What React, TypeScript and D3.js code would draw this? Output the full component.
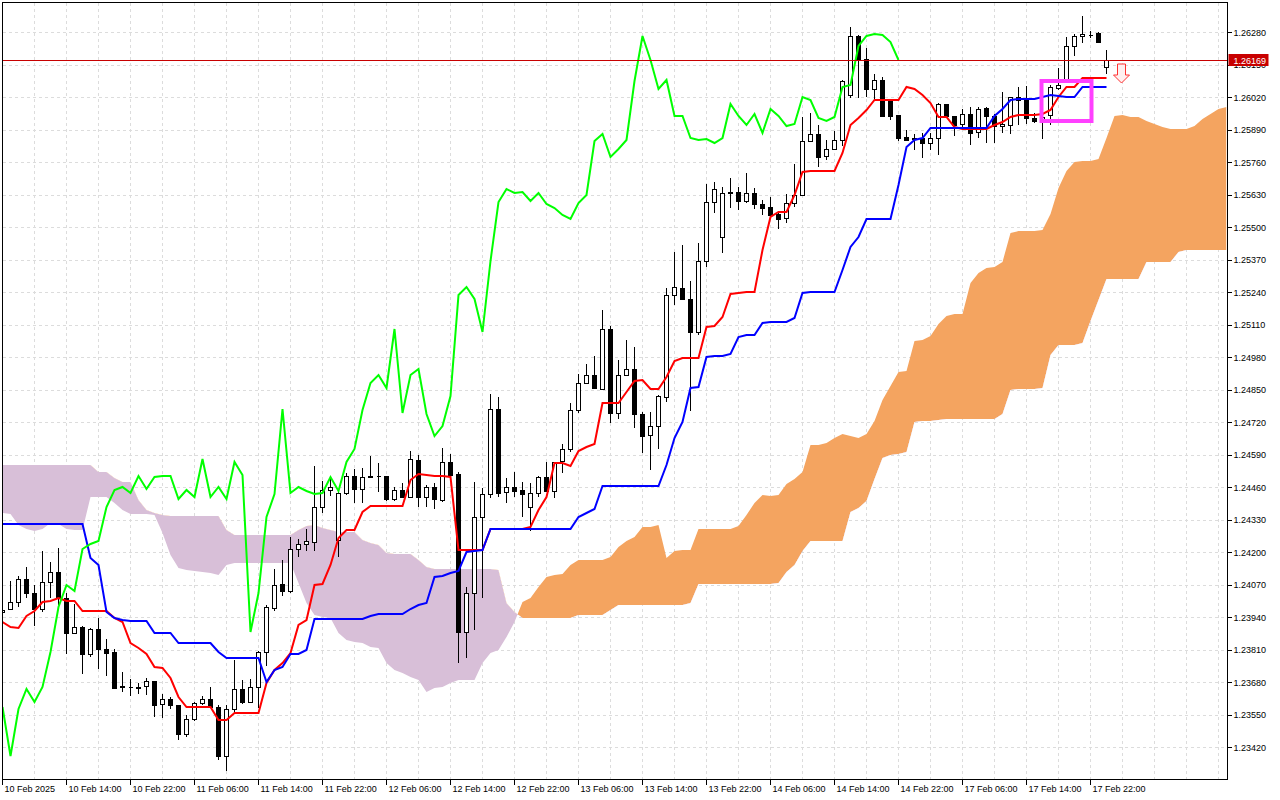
import React, { useEffect, useRef } from 'react';
import * as d3 from 'd3';

// GBPUSD H1, first visible bar = 10 Feb 2025 06:00, one bar per hour (weekend gap skipped)
const opens = [
  1.23961, 1.23973, 1.24001, 1.24093, 1.24037, 1.23973, 1.24081, 1.24121, 1.24017, 1.23877,
  1.23901, 1.23793, 1.23893, 1.23813, 1.23801, 1.23665, 1.23661, 1.23661, 1.23665, 1.23685,
  1.23593, 1.23613, 1.23589, 1.23473, 1.23533, 1.23597, 1.23613, 1.23581, 1.23385, 1.23573,
  1.23653, 1.23601, 1.23661, 1.23801, 1.23977, 1.24073, 1.24045, 1.24213, 1.24233, 1.24241,
  1.24381, 1.24449, 1.24249, 1.24437, 1.24505, 1.24453, 1.24501, 1.24505, 1.24505, 1.24413,
  1.24449, 1.24421, 1.24569, 1.24421, 1.24461, 1.24409, 1.24561, 1.24513, 1.23881, 1.24037,
  1.24341, 1.24433, 1.24773, 1.24441, 1.24461, 1.24449, 1.24381, 1.24437, 1.24501, 1.24445,
  1.24565, 1.24613, 1.24769, 1.24877, 1.24909, 1.24853, 1.25093, 1.24757, 1.24909, 1.24933,
  1.24753, 1.24669, 1.24705, 1.24821, 1.25229, 1.25257, 1.25213, 1.25081, 1.25365, 1.25601,
  1.25461, 1.25637, 1.25641, 1.25605, 1.25637, 1.25593, 1.25581, 1.25553, 1.25537, 1.25597,
  1.25629, 1.25845, 1.25873, 1.25785, 1.25813, 1.25849, 1.26029, 1.26265, 1.26173, 1.26053,
  1.26089, 1.26009, 1.25949, 1.25861, 1.25857, 1.25857, 1.25837, 1.25857, 1.25993, 1.25945,
  1.25913, 1.25953, 1.25881, 1.25977, 1.25945, 1.25905, 1.25909, 1.26021, 1.26013, 1.25937,
  1.25925, 1.25949, 1.26057, 1.26089, 1.26225, 1.26265, 1.26273, 1.26277, 1.26141,
];
const highs = [
  1.23981, 1.24085, 1.24105, 1.24141, 1.24069, 1.24205, 1.24161, 1.24217, 1.24037, 1.23993,
  1.23905, 1.23897, 1.23937, 1.23853, 1.23813, 1.23721, 1.23693, 1.23677, 1.23697, 1.23685,
  1.23633, 1.23621, 1.23589, 1.23549, 1.23601, 1.23625, 1.23661, 1.23589, 1.23589, 1.23769,
  1.23689, 1.23693, 1.23805, 1.23989, 1.24133, 1.24169, 1.24261, 1.24253, 1.24293, 1.24545,
  1.24485, 1.24501, 1.24449, 1.24517, 1.24533, 1.24537, 1.24585, 1.24557, 1.24505, 1.24461,
  1.24477, 1.24605, 1.24589, 1.24469, 1.24477, 1.24617, 1.24593, 1.24521, 1.24061, 1.24481,
  1.24457, 1.24833, 1.24821, 1.24497, 1.24521, 1.24481, 1.24477, 1.24505, 1.24561, 1.24561,
  1.24633, 1.24797, 1.24913, 1.24953, 1.24985, 1.25169, 1.25105, 1.24969, 1.25049, 1.25021,
  1.24761, 1.24761, 1.24829, 1.25257, 1.25401, 1.25429, 1.25285, 1.25437, 1.25673, 1.25681,
  1.25661, 1.25697, 1.25661, 1.25717, 1.25657, 1.25609, 1.25621, 1.25565, 1.25633, 1.25753,
  1.25941, 1.25957, 1.25909, 1.25849, 1.25885, 1.26089, 1.26301, 1.26269, 1.26217, 1.26113,
  1.26101, 1.26009, 1.25949, 1.25889, 1.25873, 1.25877, 1.25877, 1.25997, 1.25993, 1.25945,
  1.25973, 1.25981, 1.25981, 1.25981, 1.25953, 1.26041, 1.26021, 1.26061, 1.26065, 1.25957,
  1.25969, 1.26069, 1.26137, 1.26261, 1.26273, 1.26345, 1.26285, 1.26281, 1.26209,
];
const lows = [
  1.23953, 1.23969, 1.23981, 1.24017, 1.23905, 1.23961, 1.24017, 1.23989, 1.23793, 1.23873,
  1.23713, 1.23781, 1.23733, 1.23705, 1.23657, 1.23641, 1.23625, 1.23633, 1.23629, 1.23541,
  1.23537, 1.23573, 1.23449, 1.23461, 1.23525, 1.23589, 1.23577, 1.23369, 1.23325, 1.23557,
  1.23593, 1.23597, 1.23577, 1.23745, 1.23965, 1.24025, 1.24037, 1.24181, 1.24205, 1.24205,
  1.24357, 1.24425, 1.24181, 1.24429, 1.24397, 1.24397, 1.24501, 1.24441, 1.24405, 1.24405,
  1.24421, 1.24417, 1.24381, 1.24381, 1.24373, 1.24401, 1.24509, 1.23757, 1.23777, 1.23889,
  1.24017, 1.24417, 1.24421, 1.24397, 1.24421, 1.24341, 1.24285, 1.24421, 1.24441, 1.24417,
  1.24517, 1.24601, 1.24757, 1.24873, 1.24857, 1.24849, 1.24717, 1.24733, 1.24905, 1.24697,
  1.24597, 1.24529, 1.24613, 1.24801, 1.25189, 1.25209, 1.24765, 1.25069, 1.25341, 1.25557,
  1.25397, 1.25577, 1.25569, 1.25597, 1.25573, 1.25549, 1.25545, 1.25493, 1.25517, 1.25581,
  1.25625, 1.25841, 1.25741, 1.25769, 1.25809, 1.25825, 1.26017, 1.26017, 1.26021, 1.26009,
  1.25945, 1.25929, 1.25845, 1.25845, 1.25809, 1.25777, 1.25809, 1.25789, 1.25941, 1.25865,
  1.25893, 1.25829, 1.25857, 1.25837, 1.25837, 1.25877, 1.25873, 1.25909, 1.25913, 1.25917,
  1.25853, 1.25909, 1.26049, 1.26081, 1.26185, 1.26237, 1.26257, 1.26241, 1.26113,
];
const closes = [
  1.23969, 1.24001, 1.24093, 1.24037, 1.23973, 1.24081, 1.24121, 1.24017, 1.23877, 1.23901,
  1.23793, 1.23893, 1.23813, 1.23797, 1.23657, 1.23661, 1.23661, 1.23657, 1.23685, 1.23589,
  1.23613, 1.23589, 1.23473, 1.23533, 1.23597, 1.23613, 1.23581, 1.23385, 1.23573, 1.23653,
  1.23601, 1.23661, 1.23801, 1.23981, 1.24069, 1.24045, 1.24213, 1.24233, 1.24245, 1.24381,
  1.24449, 1.24461, 1.24437, 1.24505, 1.24453, 1.24501, 1.24505, 1.24505, 1.24413, 1.24449,
  1.24421, 1.24573, 1.24421, 1.24461, 1.24413, 1.24561, 1.24509, 1.23881, 1.24037, 1.24341,
  1.24433, 1.24773, 1.24437, 1.24461, 1.24445, 1.24433, 1.24437, 1.24501, 1.24445, 1.24561,
  1.24613, 1.24769, 1.24877, 1.24909, 1.24857, 1.25093, 1.24757, 1.24909, 1.24933, 1.24753,
  1.24665, 1.24705, 1.24825, 1.25229, 1.25261, 1.25213, 1.25081, 1.25365, 1.25601, 1.25653,
  1.25637, 1.25641, 1.25605, 1.25637, 1.25593, 1.25577, 1.25549, 1.25533, 1.25597, 1.25629,
  1.25845, 1.25873, 1.25781, 1.25813, 1.25849, 1.26085, 1.26265, 1.26169, 1.26053, 1.26089,
  1.25945, 1.25945, 1.25857, 1.25849, 1.25853, 1.25837, 1.25857, 1.25993, 1.25945, 1.25909,
  1.25953, 1.25877, 1.25973, 1.25945, 1.25905, 1.25913, 1.26021, 1.26009, 1.25937, 1.25925,
  1.25941, 1.26061, 1.26069, 1.26225, 1.26265, 1.26273, 1.26269, 1.26241, 1.26169,
];

// Ichimoku lines, one value per bar
const tenkan = [
  1.23921, 1.23901, 1.23897, 1.23945, 1.23965, 1.24001, 1.24005, 1.24017, 1.24005, 1.24005,
  1.23965, 1.23965, 1.23965, 1.23965, 1.23937, 1.23921, 1.23837, 1.23817, 1.23793, 1.23741,
  1.23737, 1.23697, 1.23621, 1.23581, 1.23581, 1.23581, 1.23581, 1.23529, 1.23529, 1.23557,
  1.23557, 1.23557, 1.23557, 1.23677, 1.23729, 1.23757, 1.23797, 1.23909, 1.23929, 1.24069,
  1.24073, 1.24149, 1.24257, 1.24289, 1.24289, 1.24361, 1.24385, 1.24385, 1.24385, 1.24385,
  1.24385, 1.24489, 1.24513, 1.24509, 1.24505, 1.24505, 1.24501, 1.24209, 1.24209, 1.24209,
  1.24209, 1.24293, 1.24293, 1.24293, 1.24293, 1.24293, 1.24301, 1.24369, 1.24421, 1.24557,
  1.24557, 1.24545, 1.24605, 1.24621, 1.24633, 1.24797, 1.24797, 1.24797, 1.24841, 1.24885,
  1.24889, 1.24853, 1.24853, 1.24901, 1.24965, 1.24977, 1.24977, 1.24977, 1.25101, 1.25105,
  1.25141, 1.25233, 1.25237, 1.25241, 1.25241, 1.25409, 1.25541, 1.25561, 1.25561, 1.25629,
  1.25721, 1.25725, 1.25725, 1.25725, 1.25725, 1.25797, 1.25909, 1.25937, 1.25969, 1.26009,
  1.26009, 1.26009, 1.26009, 1.26061, 1.26053, 1.26029, 1.25997, 1.25941, 1.25941, 1.25901,
  1.25893, 1.25893, 1.25893, 1.25893, 1.25909, 1.25921, 1.25941, 1.25949, 1.25949, 1.25949,
  1.25953, 1.25969, 1.26021, 1.26061, 1.26061, 1.26097, 1.26097, 1.26097, 1.26097,
];
const kijun = [
  1.24313, 1.24313, 1.24313, 1.24313, 1.24313, 1.24313, 1.24313, 1.24313, 1.24313, 1.24313,
  1.24313, 1.24177, 1.24149, 1.23961, 1.23937, 1.23929, 1.23925, 1.23925, 1.23925, 1.23877,
  1.23877, 1.23877, 1.23837, 1.23837, 1.23837, 1.23837, 1.23837, 1.23801, 1.23777, 1.23777,
  1.23777, 1.23777, 1.23777, 1.23681, 1.23729, 1.23741, 1.23793, 1.23793, 1.23809, 1.23933,
  1.23933, 1.23933, 1.23933, 1.23933, 1.23933, 1.23933, 1.23945, 1.23953, 1.23953, 1.23953,
  1.23953, 1.23973, 1.23989, 1.23997, 1.24101, 1.24105, 1.24117, 1.24125, 1.24201, 1.24205,
  1.24209, 1.24293, 1.24293, 1.24293, 1.24293, 1.24293, 1.24293, 1.24293, 1.24293, 1.24293,
  1.24293, 1.24293, 1.24341, 1.24357, 1.24373, 1.24465, 1.24465, 1.24465, 1.24465, 1.24465,
  1.24465, 1.24465, 1.24465, 1.24549, 1.24657, 1.24721, 1.24857, 1.24861, 1.24981, 1.24985,
  1.24985, 1.24993, 1.25061, 1.25069, 1.25069, 1.25117, 1.25121, 1.25121, 1.25121, 1.25137,
  1.25237, 1.25241, 1.25241, 1.25241, 1.25241, 1.25329, 1.25421, 1.25461, 1.25533, 1.25533,
  1.25533, 1.25533, 1.25669, 1.25821, 1.25849, 1.25857, 1.25897, 1.25897, 1.25897, 1.25897,
  1.25897, 1.25897, 1.25897, 1.25897, 1.25945, 1.25973, 1.26009, 1.26013, 1.26013, 1.26013,
  1.26021, 1.26029, 1.26025, 1.26021, 1.26021, 1.26061, 1.26061, 1.26061, 1.26061,
];
// Senkou spans as plotted (already shifted 26 bars forward), bars 0..153
const senkouA = [
  1.24357, 1.24353, 1.24309, 1.24293, 1.24285, 1.24293, 1.24317, 1.24313, 1.24293, 1.24289,
  1.24289, 1.24421, 1.24421, 1.24421, 1.24397, 1.24369, 1.24353, 1.24353, 1.24353, 1.24349,
  1.24277, 1.24189, 1.24137, 1.24129, 1.24125, 1.24121, 1.24117, 1.24109, 1.24149, 1.24157,
  1.24157, 1.24157, 1.24157, 1.24157, 1.24157, 1.24157, 1.24157, 1.24077, 1.23997, 1.23949,
  1.23941, 1.23937, 1.23877, 1.23849, 1.23841, 1.23837, 1.23821, 1.23817, 1.23757, 1.23729,
  1.23717, 1.23701, 1.23689, 1.23641, 1.23657, 1.23661, 1.23677, 1.23689, 1.23689, 1.23689,
  1.23757, 1.23797, 1.23809, 1.23861, 1.23921, 1.24001, 1.24017, 1.24061, 1.24101, 1.24109,
  1.24113, 1.24149, 1.24169, 1.24169, 1.24169, 1.24169, 1.24181, 1.24221, 1.24245, 1.24261,
  1.24301, 1.24301, 1.24309, 1.24177, 1.24205, 1.24209, 1.24209, 1.24293, 1.24293, 1.24293,
  1.24293, 1.24293, 1.24305, 1.24349, 1.24397, 1.24429, 1.24425, 1.24429, 1.24473, 1.24493,
  1.24521, 1.24629, 1.24629, 1.24637, 1.24657, 1.24673, 1.24665, 1.24657, 1.24673, 1.24725,
  1.24809, 1.24865, 1.24921, 1.24925, 1.25045, 1.25049, 1.25065, 1.25113, 1.25145, 1.25153,
  1.25153, 1.25277, 1.25317, 1.25337, 1.25341, 1.25361, 1.25477, 1.25485, 1.25485, 1.25485,
  1.25489, 1.25553, 1.25657, 1.25725, 1.25761, 1.25765, 1.25765, 1.25773, 1.25857, 1.25945,
  1.25949, 1.25941, 1.25941, 1.25925, 1.25913, 1.25901, 1.25893, 1.25893, 1.25893, 1.25905,
  1.25933, 1.25953, 1.25973, 1.25981,
];
const senkouB = [
  1.24549, 1.24549, 1.24549, 1.24549, 1.24549, 1.24549, 1.24549, 1.24549, 1.24549, 1.24549,
  1.24549, 1.24549, 1.24521, 1.24521, 1.24497, 1.24481, 1.24481, 1.24409, 1.24369, 1.24357,
  1.24349, 1.24345, 1.24345, 1.24345, 1.24345, 1.24345, 1.24345, 1.24345, 1.24289, 1.24269,
  1.24269, 1.24269, 1.24269, 1.24269, 1.24269, 1.24269, 1.24269, 1.24289, 1.24305, 1.24309,
  1.24297, 1.24289, 1.24281, 1.24281, 1.24281, 1.24249, 1.24237, 1.24229, 1.24197, 1.24193,
  1.24193, 1.24193, 1.24169, 1.24141, 1.24133, 1.24133, 1.24133, 1.24133, 1.24133, 1.24133,
  1.24133, 1.24133, 1.24129, 1.23997, 1.23961, 1.23937, 1.23937, 1.23937, 1.23937, 1.23937,
  1.23937, 1.23937, 1.23949, 1.23949, 1.23949, 1.23949, 1.23969, 1.23989, 1.23989, 1.23989,
  1.23989, 1.23989, 1.23989, 1.23989, 1.23989, 1.23989, 1.23997, 1.24073, 1.24073, 1.24073,
  1.24073, 1.24073, 1.24073, 1.24073, 1.24073, 1.24073, 1.24073, 1.24077, 1.24121, 1.24149,
  1.24205, 1.24245, 1.24245, 1.24245, 1.24245, 1.24245, 1.24361, 1.24377, 1.24405, 1.24493,
  1.24577, 1.24589, 1.24593, 1.24601, 1.24721, 1.24725, 1.24725, 1.24729, 1.24733, 1.24733,
  1.24733, 1.24733, 1.24733, 1.24733, 1.24733, 1.24753, 1.24849, 1.24853, 1.24853, 1.24853,
  1.24857, 1.24989, 1.25029, 1.25029, 1.25029, 1.25037, 1.25125, 1.25209, 1.25293, 1.25293,
  1.25293, 1.25293, 1.25293, 1.25361, 1.25361, 1.25361, 1.25361, 1.25401, 1.25409, 1.25409,
  1.25409, 1.25409, 1.25409, 1.25409,
];
const CHIKOU_SHIFT = 26;

const priceTicks = [
  '1.26280', '1.26150', '1.26020', '1.25890', '1.25760', '1.25630', '1.25500', '1.25370',
  '1.25240', '1.25110', '1.24980', '1.24850', '1.24720', '1.24590', '1.24460', '1.24330',
  '1.24200', '1.24070', '1.23940', '1.23810', '1.23680', '1.23550', '1.23420',
];
// one label every 8 bars, starting at bar 0
const timeLabels = [
  '10 Feb 2025', '10 Feb 14:00', '10 Feb 22:00', '11 Feb 06:00', '11 Feb 14:00', '11 Feb 22:00',
  '12 Feb 06:00', '12 Feb 14:00', '12 Feb 22:00', '13 Feb 06:00', '13 Feb 14:00', '13 Feb 22:00',
  '14 Feb 06:00', '14 Feb 14:00', '14 Feb 22:00', '17 Feb 06:00', '17 Feb 14:00', '17 Feb 22:00',
];
const LABEL_EVERY = 8;

const currentPrice = 1.26169;
const signalBox = { fromBar: 130, toBar: 136, top: 1.26085, bottom: 1.25925 };
const arrowMark = { bar: 140, price: 1.26153 };

const WIDTH = 1280;
const HEIGHT = 800;
const FRAME = { left: 2.5, top: 2.5, right: 1227.5, bottom: 779.5 };
const BAR_STEP = 8;
const FONT = "'Liberation Sans', Arial, sans-serif";

const App: React.FC = () => {
  const svgRef = useRef<SVGSVGElement>(null);

  useEffect(() => {
    if (!svgRef.current) return;
    const svg = d3.select(svgRef.current);
    svg.selectAll('*').remove();

    const lastBar = senkouA.length - 1;
    const x = d3.scaleLinear()
      .domain([0, lastBar])
      .range([FRAME.left, FRAME.left + BAR_STEP * lastBar]);
    const y = d3.scaleLinear()
      .domain([+priceTicks[priceTicks.length - 1], +priceTicks[0]])
      .range([747.25, 32.25]);

    const defs = svg.append('defs');
    defs.append('clipPath').attr('id', 'plot-area')
      .append('rect')
      .attr('x', FRAME.left + 0.5)
      .attr('y', FRAME.top + 0.5)
      .attr('width', FRAME.right - FRAME.left - 1)
      .attr('height', FRAME.bottom - FRAME.top - 1);

    // split the cloud on span B: the band above B is bullish (A on top), below B bearish
    const cloudBars = d3.range(senkouA.length);
    const spanBPath = d3.line<number>().x(i => x(i)).y(i => y(senkouB[i]))(cloudBars) as string;
    defs.append('clipPath').attr('id', 'above-b')
      .append('path')
      .attr('d', `${spanBPath}L${x(lastBar)},0L${x(0)},0Z`);
    defs.append('clipPath').attr('id', 'below-b')
      .append('path')
      .attr('d', `${spanBPath}L${x(lastBar)},${HEIGHT}L${x(0)},${HEIGHT}Z`);

    // grid
    const grid = svg.append('g')
      .attr('stroke', '#dcdcdc')
      .attr('stroke-dasharray', '3,3')
      .attr('shape-rendering', 'crispEdges');
    grid.selectAll('line.h')
      .data(priceTicks)
      .join('line')
      .attr('class', 'h')
      .attr('x1', FRAME.left)
      .attr('x2', FRAME.right)
      .attr('y1', d => Math.round(y(+d)) + 0.5)
      .attr('y2', d => Math.round(y(+d)) + 0.5);
    grid.selectAll('line.v')
      .data(d3.range(4, lastBar, 4))
      .join('line')
      .attr('class', 'v')
      .attr('x1', d => x(d))
      .attr('x2', d => x(d))
      .attr('y1', FRAME.top)
      .attr('y2', FRAME.bottom);

    const plot = svg.append('g').attr('clip-path', 'url(#plot-area)');

    // kumo
    const band = d3.area<number>()
      .x(i => x(i))
      .y0(i => y(senkouB[i]))
      .y1(i => y(senkouA[i]));
    plot.append('g').attr('clip-path', 'url(#above-b)')
      .append('path')
      .attr('d', band(cloudBars))
      .attr('fill', '#f4a460');
    plot.append('g').attr('clip-path', 'url(#below-b)')
      .append('path')
      .attr('d', band(cloudBars))
      .attr('fill', '#d8bfd8');

    // candles
    const bars = d3.range(opens.length);
    const bodyH = (i: number) => Math.abs(y(opens[i]) - y(closes[i]));
    const candles = plot.append('g').attr('shape-rendering', 'crispEdges');
    candles.selectAll('line.wick')
      .data(bars)
      .join('line')
      .attr('class', 'wick')
      .attr('x1', i => x(i))
      .attr('x2', i => x(i))
      .attr('y1', i => y(highs[i]))
      .attr('y2', i => y(lows[i]))
      .attr('stroke', '#000');
    candles.selectAll('rect.body')
      .data(bars.filter(i => bodyH(i) >= 1))
      .join('rect')
      .attr('class', 'body')
      .attr('x', i => x(i) - 2)
      .attr('width', 4)
      .attr('y', i => y(Math.max(opens[i], closes[i])))
      .attr('height', bodyH)
      .attr('fill', i => (closes[i] >= opens[i] ? '#ffffff' : '#000000'))
      .attr('stroke', '#000');
    candles.selectAll('line.doji')
      .data(bars.filter(i => bodyH(i) < 1))
      .join('line')
      .attr('class', 'doji')
      .attr('x1', i => x(i) - 2)
      .attr('x2', i => x(i) + 2)
      .attr('y1', i => y(closes[i]))
      .attr('y2', i => y(closes[i]))
      .attr('stroke', '#000');

    // indicator lines
    const lineOf = d3.line<number>().x((_, i) => x(i)).y(v => y(v));
    plot.append('path')
      .attr('d', lineOf(tenkan))
      .attr('fill', 'none')
      .attr('stroke', '#ff0000')
      .attr('stroke-width', 2);
    plot.append('path')
      .attr('d', lineOf(kijun))
      .attr('fill', 'none')
      .attr('stroke', '#0000ff')
      .attr('stroke-width', 2);
    plot.append('path')
      .attr('d', lineOf(closes.slice(CHIKOU_SHIFT)))
      .attr('fill', 'none')
      .attr('stroke', '#00ff00')
      .attr('stroke-width', 2);

    // current price line
    const yNow = Math.round(y(currentPrice)) + 0.5;
    plot.append('line')
      .attr('x1', FRAME.left)
      .attr('x2', FRAME.right)
      .attr('y1', yNow)
      .attr('y2', yNow)
      .attr('stroke', '#c80000')
      .attr('shape-rendering', 'crispEdges');

    // signal box + sell arrow
    plot.append('rect')
      .attr('x', x(signalBox.fromBar) - 1)
      .attr('y', y(signalBox.top))
      .attr('width', x(signalBox.toBar) - x(signalBox.fromBar) + 2)
      .attr('height', y(signalBox.bottom) - y(signalBox.top))
      .attr('fill', 'none')
      .attr('stroke', '#ff40ff')
      .attr('stroke-width', 4);
    const ax = x(arrowMark.bar) - 1;
    const ay = y(arrowMark.price);
    plot.append('path')
      .attr('d', `M${ax - 4},${ay}H${ax + 4}V${ay + 11}H${ax + 8}L${ax},${ay + 19}L${ax - 8},${ay + 11}H${ax - 4}Z`)
      .attr('fill', '#fff0f0')
      .attr('stroke', '#ff3030')
      .attr('stroke-width', 1);

    // frame
    svg.append('rect')
      .attr('x', FRAME.left)
      .attr('y', FRAME.top)
      .attr('width', FRAME.right - FRAME.left)
      .attr('height', FRAME.bottom - FRAME.top)
      .attr('fill', 'none')
      .attr('stroke', '#000')
      .attr('shape-rendering', 'crispEdges');

    // price axis
    const axis = svg.append('g')
      .attr('font-family', FONT)
      .attr('font-size', 9)
      .attr('fill', '#000');
    axis.selectAll('line.ptick')
      .data(priceTicks)
      .join('line')
      .attr('class', 'ptick')
      .attr('x1', FRAME.right)
      .attr('x2', FRAME.right + 4)
      .attr('y1', d => Math.round(y(+d)) + 0.5)
      .attr('y2', d => Math.round(y(+d)) + 0.5)
      .attr('stroke', '#000')
      .attr('shape-rendering', 'crispEdges');
    axis.selectAll('text.plabel')
      .data(priceTicks)
      .join('text')
      .attr('class', 'plabel')
      .attr('x', FRAME.right + 6)
      .attr('y', d => y(+d) + 3.5)
      .text(d => d);

    // time axis
    axis.selectAll('line.ttick')
      .data(timeLabels)
      .join('line')
      .attr('class', 'ttick')
      .attr('x1', (_, k) => x(k * LABEL_EVERY))
      .attr('x2', (_, k) => x(k * LABEL_EVERY))
      .attr('y1', FRAME.bottom)
      .attr('y2', FRAME.bottom + 5)
      .attr('stroke', '#000')
      .attr('shape-rendering', 'crispEdges');
    axis.selectAll('text.tlabel')
      .data(timeLabels)
      .join('text')
      .attr('class', 'tlabel')
      .attr('x', (_, k) => x(k * LABEL_EVERY) + 2)
      .attr('y', 792)
      .text(d => d);

    // current price tag
    axis.append('rect')
      .attr('x', FRAME.right + 1)
      .attr('y', yNow - 6.5)
      .attr('width', 40)
      .attr('height', 12)
      .attr('fill', '#c80000');
    axis.append('text')
      .attr('x', FRAME.right + 6)
      .attr('y', yNow + 3.5)
      .attr('fill', '#ffffff')
      .text(currentPrice.toFixed(5));
  }, []);

  return (
    <>
      <style>{'body{margin:0;background:#fff}'}</style>
      <svg ref={svgRef} width={WIDTH} height={HEIGHT} style={{ display: 'block', background: '#fff' }} />
    </>
  );
};

export default App;
